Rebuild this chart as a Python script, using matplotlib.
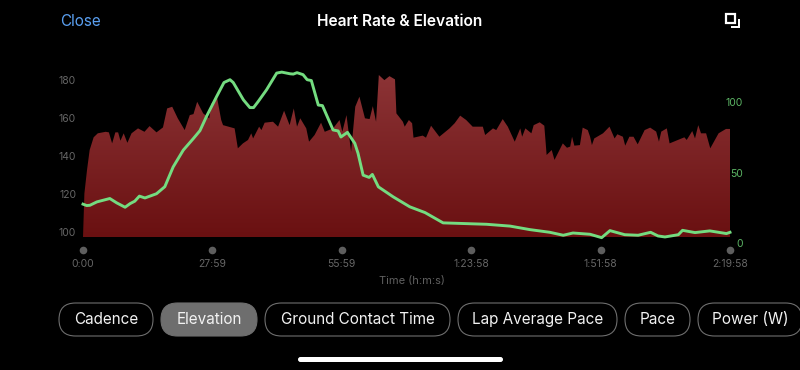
import matplotlib
matplotlib.use("Agg")
import matplotlib.pyplot as plt
import numpy as np
from matplotlib.colors import LinearSegmentedColormap
from matplotlib.patches import FancyBboxPatch, Rectangle, Polygon

plt.rcParams['font.family'] = ['Inter', 'DejaVu Sans']

# Heart rate outline (minutes, bpm)
hr_time = [0, .3, .87, 1.44, 2.3, 3.2, 4.9, 5.6, 6.3, 7, 7.6, 8.1, 8.8, 9.6, 10.5, 11.9, 13.3, 14.4, 15.9, 17.3,
           18.2, 19.3, 20.5, 22, 23.1, 23.9, 24.7, 26, 27.3, 27.8, 29, 29.9, 30.3, 32.8, 33.5, 34.6,
           35.7, 36.4, 36.8, 38.1, 38.6, 39.3, 41.1, 42.2, 43.5, 44.7, 45.6, 46.3, 47, 48.3, 48.9, 50.1,
           51.5, 52.3, 54.1, 55.5, 56.1, 57, 58, 58.9, 59.8, 61, 62, 62.7, 63.4, 64, 65.2, 66.3, 67.5, 67.8,
           69.2, 69.6, 70.5, 71.2, 71.5, 73.5, 74.2, 75.3, 77.1, 79.3, 80.4, 81.6, 82.9, 84.3, 86.5, 87,
           88.7, 89.4, 90.8, 91.9, 93.4, 94.6, 95, 95.7, 97, 97.5, 98.8, 99.8, 100.3, 101.4, 102, 103.8,
           104.7, 105.4, 105.8, 106.3, 107.5, 108.1, 109.2, 109.7, 110.1, 110.6, 112.5, 113.9, 115, 115.6,
           116.8, 117.3, 118.2, 119.1, 120, 121.5, 122.7, 124, 124.6, 125.1, 126.3, 126.9, 130.1, 130.6,
           131.8, 132.4, 133.1, 133.7, 134.8, 135.7, 137.5, 139.1, 139.97]
hr_values = [97, 120, 132.4, 142.9, 149.6, 151.7, 152.5, 152.2, 146.4, 152.2, 152.2, 147.8, 151.7, 146.7, 151.7, 154.3, 152.5, 155.5, 152.2, 154.8,
             164.8, 165.7, 159.6, 153.4, 161.3, 161.8, 168.3, 162.2, 159.6, 167.4, 170.5, 158.7, 156, 154.3, 143.8, 146.4,
             148.2, 151.7, 149, 155.2, 153.4, 157.3, 157.8, 155.2, 163.6, 156, 164.8, 155.2, 159.6, 154.3, 147.3, 150.8,
             157.3, 152.5, 154.3, 158.7, 152.5, 161.3, 142, 165.7, 171, 159.6, 159.2, 166, 157.8, 182.4, 179.7, 181.8, 180.1, 162.2,
             157.8, 155.2, 158.7, 157, 149.4, 150.5, 149.4, 155.7, 149.9, 154.3, 157, 161, 158.7, 155.2, 155.2, 150.8,
             154.3, 153.4, 159.2, 155.2, 147.3, 154.3, 149.9, 154.3, 151.7, 156, 157.5, 155.7, 140.3, 142.9, 137.7, 146.4,
             144.1, 144.7, 149.9, 145.2, 145.5, 154.7, 153.4, 149.9, 145.5, 149, 151.7, 155.2, 149, 151.2,
             149.9, 145.2, 149.9, 149.9, 145.9, 153.4, 154.7, 152.6, 147.3, 152.6, 154.3, 146.4, 149.6, 148.2,
             152.9, 149, 156, 151.7, 151.7, 143.8, 151.7, 154, 154]

# Elevation line (minutes, metres)
elev_time = [0, .8, 1.5, 3, 5.8, 7.3, 9.1, 10.2, 11.2, 12.2, 13.4, 15.9, 17.7, 19.5, 21.7, 23.9, 25.3, 26.7, 28.9,
             30.5, 31.8, 32.5, 34.7, 36.1, 36.9, 37.9, 39.7, 41.9, 43, 44.8, 45.5, 46.3, 47.6, 48.5, 49.4, 50.9,
             51.8, 54.1, 55.2, 55.8, 57.2, 58.8, 59.5, 60.6, 61.9, 62.6, 63.9, 67.1, 70.7, 74, 77.9, 87.3, 92.4,
             96.7, 101, 103.9, 106, 109.7, 112.2, 114, 117.2, 120.1, 122.8, 124.4, 125.9, 128.8, 129.7, 132.4,
             135.6, 139.2, 139.97]
elev_values = [27.6, 26.6, 26.8, 29.2, 31.6, 28.5, 25.4, 28, 29.7, 33.3, 32, 35, 40, 54, 66, 74.3, 79.8, 89.8, 104,
               114, 116, 114, 101.7, 96.2, 96.2, 100.5, 108.8, 120.7, 121.4, 120.2, 120, 121, 119.6, 116, 115.4, 98,
               97.6, 80.3, 79.6, 75.3, 78.6, 70.8, 63.7, 48.2, 46.6, 48.7, 39.9, 32.8, 25.7, 21.6, 14.3, 13.3, 12,
               9.5, 7.6, 5.5, 7.1, 6.2, 3.8, 8.8, 5.9, 5.5, 7.6, 5, 4.3, 5.9, 9, 7.4,
               8.6, 6.7, 7.6]

x_ticks = [0, 27.983, 55.983, 83.967, 111.967, 139.967]
x_labels = ['0:00', '27:59', '55:59', '1:23:58', '1:51:58', '2:19:58']
hr_ticks = [100, 120, 140, 160, 180]
elev_ticks = [0, 50, 100]
pills = ['Cadence', 'Elevation', 'Ground Contact Time', 'Lap Average Pace', 'Pace', 'Power (W)']
pill_edges = [(59, 153), (161, 257), (265, 450), (458, 617), (625, 690), (698, 802)]
selected = 'Elevation'

W, H = 800, 370
fig = plt.figure(figsize=(W / 100, H / 100), dpi=100, facecolor='black')

# chart, pixel box x 83-730, y 60-243
ax = fig.add_axes([83 / W, (H - 243) / H, 647 / W, 183 / H], facecolor='black')
for s in ax.spines.values():
    s.set_visible(False)

# gradient fill clipped to the heart rate outline
baseline = 97
grad = LinearSegmentedColormap.from_list('hr', ['#6a1011', '#8c3436'])
img = ax.imshow(np.linspace(1, 0, 256).reshape(-1, 1), extent=[0, 139.97, baseline, 183], aspect='auto',
                cmap=grad, vmin=0, vmax=1, zorder=1)
outline = list(zip(hr_time, hr_values)) + [(139.97, baseline), (0, baseline)]
poly = Polygon(outline, closed=True, transform=ax.transData, facecolor='none', edgecolor='none')
ax.add_patch(poly)
img.set_clip_path(poly)
ax.set_xlim(0, 139.97)
ax.set_ylim(93.95, 190.3)

ax.set_yticks(hr_ticks)
ax.tick_params(axis='y', length=0, pad=5, labelsize=7.5, labelcolor='#666666')
ax.set_xticks(x_ticks)
ax.set_xticklabels(x_labels)
ax.tick_params(axis='x', length=0, pad=11.5, labelsize=7.5, labelcolor='#666666')
ax.set_xlabel('Time (h:m:s)', color='#606060', fontsize=8, labelpad=5, x=0.5077)
ax.plot(x_ticks, [-0.038] * len(x_ticks), 'o', ms=5.5, color='#5e5e5e', mec='none',
        transform=ax.get_xaxis_transform(), clip_on=False)

ax2 = ax.twinx()
ax2.set_ylim(0, 130)
for s in ax2.spines.values():
    s.set_visible(False)
ax2.plot(elev_time, elev_values, color='#74dc80', lw=2.1, solid_joinstyle='round', zorder=5, clip_on=False)
ax2.set_yticks(elev_ticks)
ax2.tick_params(axis='y', length=0, pad=9.4, labelsize=7.5, labelcolor='#5cb565')
for lab in ax2.get_yticklabels():
    lab.set_ha('right')

# overlay in pixel coordinates for the app chrome
ui = fig.add_axes([0, 0, 1, 1], facecolor='none')
ui.set_xlim(0, W)
ui.set_ylim(H, 0)
ui.axis('off')
ui.text(60, 21, 'Close', color='#5a9ff0', fontsize=11, va='center', ha='left')
ui.text(400, 21, 'Heart Rate & Elevation', color='white', fontsize=11.2, va='center', ha='center', fontweight='semibold')
ui.add_patch(Rectangle((726, 14), 8.5, 8.5, fill=False, ec='white', lw=1.6))
ui.add_patch(Rectangle((737.5, 19), 2.7, 9.2, fc='white', ec='none'))
ui.add_patch(Rectangle((731, 25.5), 9.2, 2.7, fc='white', ec='none'))

for name, (x0, x1) in zip(pills, pill_edges):
    on = name == selected
    ui.add_patch(FancyBboxPatch((x0, 303), x1 - x0, 33, boxstyle='round,pad=0,rounding_size=16.5',
                                fc='#6e6e6e' if on else 'black', ec='#6e6e6e', lw=0.8))
    ui.text((x0 + x1) / 2, 319.5, name, color='#f2f2f2', fontsize=11, va='center', ha='center')

# home indicator
ui.add_patch(FancyBboxPatch((298, 357), 205, 5, boxstyle='round,pad=0,rounding_size=2.5', fc='white', ec='none'))

fig.savefig('out.png', dpi=100, facecolor='black')
